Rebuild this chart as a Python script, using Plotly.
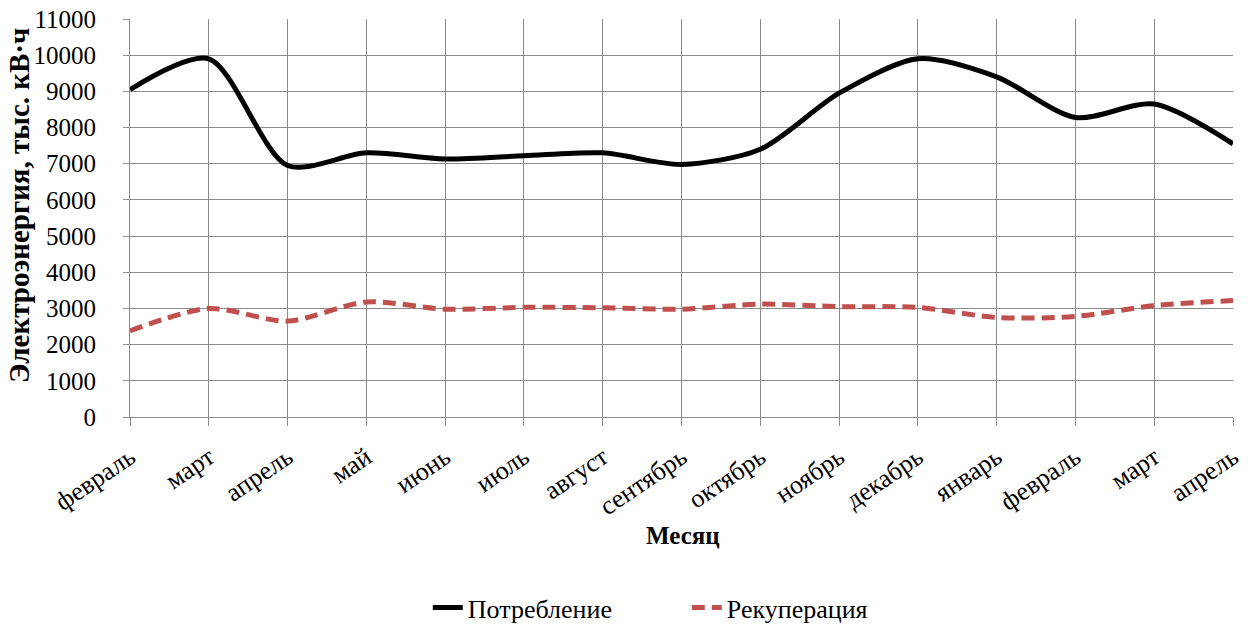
import plotly.graph_objects as go

months = ["февраль", "март", "апрель", "май", "июнь", "июль", "август", "сентябрь",
          "октябрь", "ноябрь", "декабрь", "январь", "февраль", "март", "апрель"]
consumption = [9050, 9900, 6950, 7300, 7130, 7220, 7300, 6980, 7400, 8950, 9900, 9400, 8280, 8650, 7550]
recuperation = [2380, 3000, 2650, 3180, 2980, 3030, 3020, 2980, 3120, 3050, 3030, 2750, 2780, 3080, 3220]
y_ticks = list(range(0, 11001, 1000))

x = list(range(len(months)))
font_family = "Liberation Serif, Times New Roman, serif"
grid = "#8c8c8c"

fig = go.Figure()
fig.add_trace(go.Scatter(x=x, y=consumption, name="Потребление", mode="lines",
                         line=dict(color="black", width=5, shape="spline", smoothing=0.8)))
fig.add_trace(go.Scatter(x=x, y=recuperation, name="Рекуперация", mode="lines",
                         line=dict(color="#C0504D", width=5, dash="13px,7px", shape="spline", smoothing=0.8)))

fig.update_layout(
    width=1251, height=624,
    margin=dict(l=130, r=18, t=19, b=207, autoexpand=False),
    plot_bgcolor="white", paper_bgcolor="white",
    font=dict(family=font_family, size=25, color="black"),
    showlegend=True,
    legend=dict(orientation="h", x=0.270, xanchor="left", y=-0.479, yanchor="middle",
                font=dict(size=26), entrywidth=214, entrywidthmode="pixels",
                traceorder="normal"),
    annotations=[
        dict(text="<b>Месяц</b>", x=0.501, y=-0.297, xref="paper", yref="paper",
             showarrow=False, font=dict(size=25), xanchor="center", yanchor="middle"),
        dict(text="<b>Электроэнергия, тыс. кВ·ч</b>", x=-0.1, y=0.532, xref="paper", yref="paper",
             showarrow=False, font=dict(size=29), textangle=-90, xanchor="center", yanchor="middle"),
    ],
)
fig.update_xaxes(
    range=[0, len(months) - 1], tickvals=x, ticktext=months, tickangle=-34,
    tickfont=dict(size=26),
    showgrid=True, gridcolor=grid, gridwidth=1,
    showline=True, linecolor=grid, linewidth=1,
    ticks="outside", ticklen=8, tickcolor=grid, zeroline=False,
    ticklabelstandoff=6,
)
fig.update_yaxes(
    range=[0, 11000], tickvals=y_ticks, ticktext=[str(v) for v in y_ticks],
    tickfont=dict(size=25),
    showgrid=True, gridcolor=grid, gridwidth=1,
    showline=True, linecolor=grid, linewidth=1,
    ticks="outside", ticklen=6, tickcolor=grid, zeroline=False,
    ticklabelstandoff=22,
)

fig.write_html("out.html")
